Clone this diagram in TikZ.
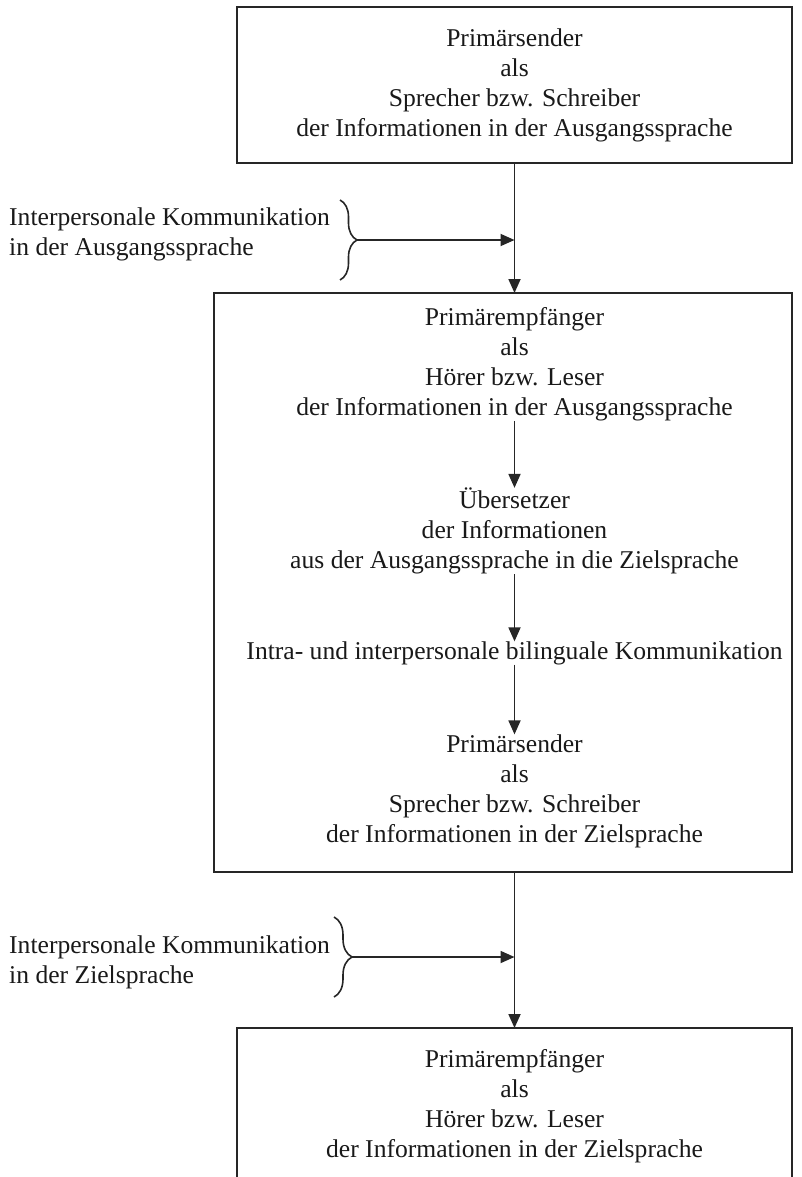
\documentclass[tikz,border=0pt]{standalone}
\usepackage{fontspec}
\setmainfont{Liberation Serif}
\usetikzlibrary{arrows.meta, decorations.pathreplacing, positioning}

\begin{document}
\begin{tikzpicture}[
    x=1pt, y=-1pt,
    font=\fontsize{25.6}{30}\selectfont,
    >={Triangle[length=14pt, width=12pt]},
    box/.style={draw=black!85, line width=1.8pt, align=center, inner sep=0pt, outer sep=0pt, text=black!90},
    txt/.style={align=center, inner sep=0pt, outer sep=0pt, text=black!90},
    seite/.style={align=left, anchor=west, inner sep=0pt, text=black!90},
    pfeil/.style={->, draw=black!85, line width=1.8pt},
    klammer/.style={draw=black!85, line width=1.6pt, decorate, decoration={brace, amplitude=#1}}
]

% --- RAHMEN ---
\useasboundingbox (0,0) rectangle (802,1177);
\clip (0,0) rectangle (802,1177);

% --- OBERE BOX ---
\node[box, minimum width=555pt, minimum height=156pt] (sender) at (514.5,85)
    {Primärsender\\als\\Sprecher bzw. Schreiber\\der Informationen in der Ausgangssprache};

% --- MITTLERE BOX ---
\node[box, minimum width=578pt, minimum height=579pt] (mitte) at (503,582.5) {};

\node[txt] (empf) at (514.5,364) {Primärempfänger\\als\\Hörer bzw. Leser\\der Informationen in der Ausgangssprache};
\node[txt] (uebers) at (514.5,531) {Übersetzer\\der Informationen\\aus der Ausgangssprache in die Zielsprache};
\node[txt] (intra) at (514.5,653) {Intra- und interpersonale bilinguale Kommunikation};
\node[txt] (sender2) at (514.5,791) {Primärsender\\als\\Sprecher bzw. Schreiber\\der Informationen in der Zielsprache};

% --- UNTERE BOX (unten abgeschnitten) ---
\node[box, minimum width=555pt, minimum height=156pt] (empf2) at (514.5,1106)
    {Primärempfänger\\als\\Hörer bzw. Leser\\der Informationen in der Zielsprache};

% --- SEITLICHE BESCHRIFTUNGEN ---
\node[seite] (kom1) at (9,234) {Interpersonale Kommunikation\\in der Ausgangssprache};
\node[seite] (kom2) at (9,962) {Interpersonale Kommunikation\\in der Zielsprache};

% Klammern
\draw[klammer=17pt] (340,200) -- (340,280);
\coordinate (k1) at (357,240);
\draw[klammer=18pt] (334,917) -- (334,997);
\coordinate (k2) at (352,957);

% --- PFEILE ---
\draw[pfeil] (sender.south) -- (mitte.north -| sender.south);
\draw[pfeil] (k1) -- (k1 -| sender.south);

\draw[pfeil] (empf.south) -- (uebers.north);
\draw[pfeil] (uebers.south) -- (intra.north);
\draw[pfeil] (intra.south) -- (sender2.north);

\draw[pfeil] (mitte.south -| sender.south) -- (empf2.north);
\draw[pfeil] (k2) -- (k2 -| sender.south);

\end{tikzpicture}
\end{document}
